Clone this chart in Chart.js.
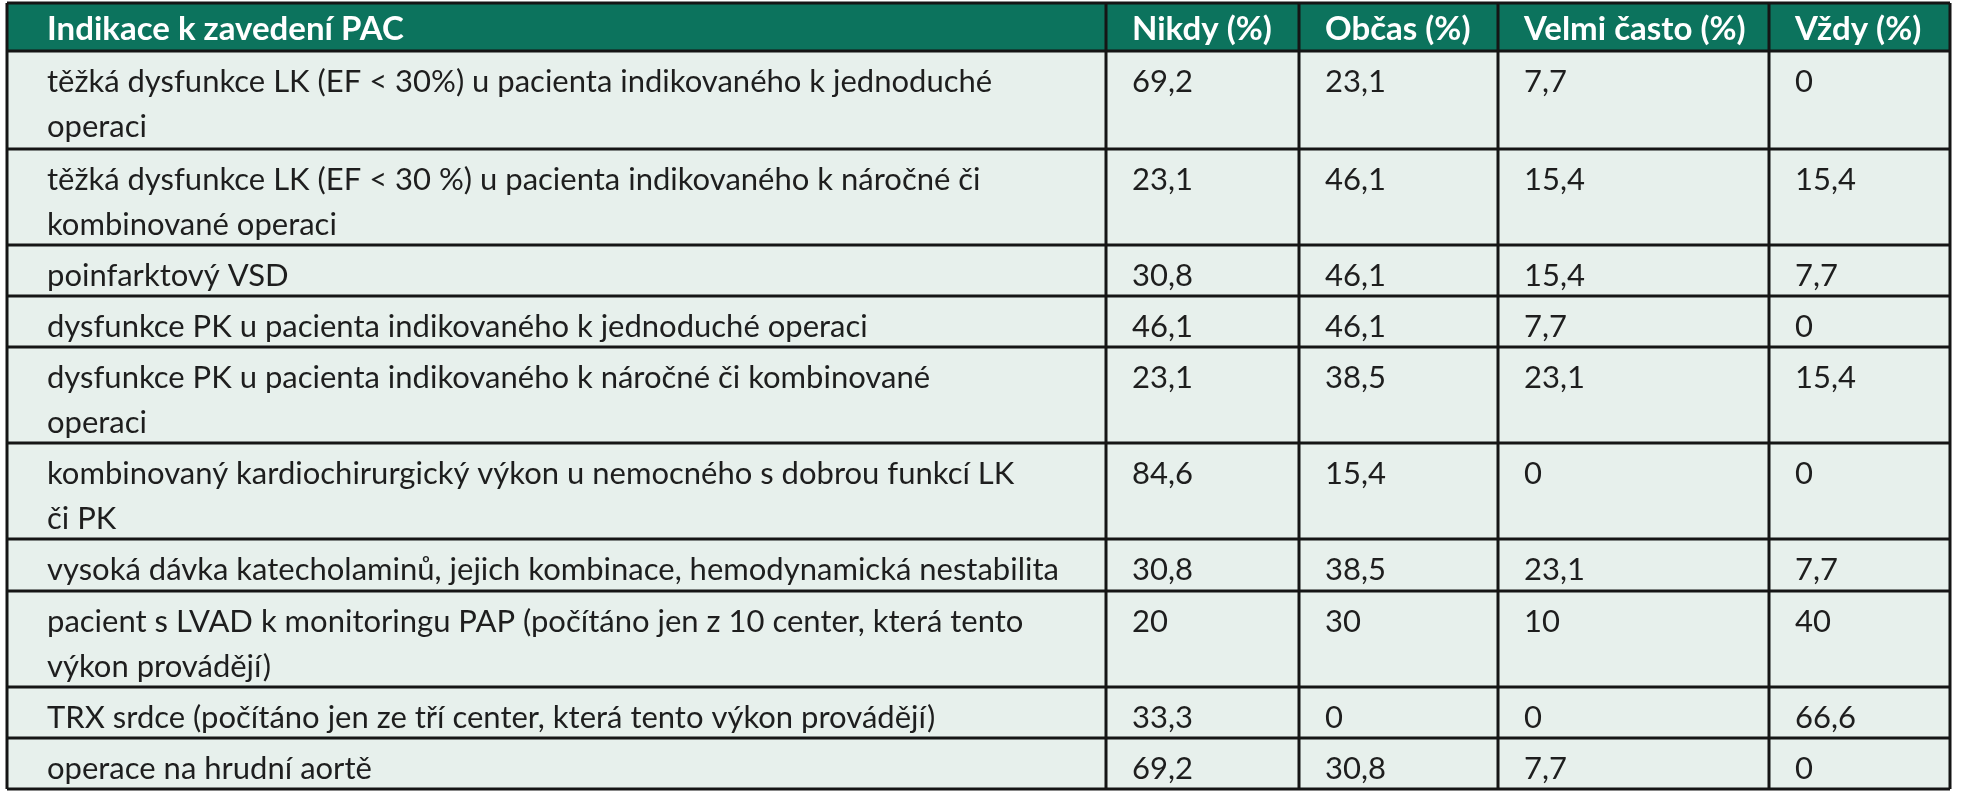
<!DOCTYPE html>
<html>
<head>
<meta charset="utf-8">
<script src="https://cdn.jsdelivr.net/npm/chart.js@4"></script>
<style>
  html, body { margin: 0; padding: 0; background: #fff; }
  #wrap { width: 1966px; height: 800px; }
</style>
</head>
<body>
<div id="wrap"><canvas id="tableChart"></canvas></div>
<script>
// data
const headers = ['Indikace k zavedení PAC', 'Nikdy (%)', 'Občas (%)', 'Velmi často (%)', 'Vždy (%)'];
const indications = [
    ['těžká dysfunkce LK (EF < 30%) u pacienta indikovaného k jednoduché', 'operaci'],
    ['těžká dysfunkce LK (EF < 30 %) u pacienta indikovaného k náročné či', 'kombinované operaci'],
    ['poinfarktový VSD'],
    ['dysfunkce PK u pacienta indikovaného k jednoduché operaci'],
    ['dysfunkce PK u pacienta indikovaného k náročné či kombinované', 'operaci'],
    ['kombinovaný kardiochirurgický výkon u nemocného s dobrou funkcí LK', 'či PK'],
    ['vysoká dávka katecholaminů, jejich kombinace, hemodynamická nestabilita'],
    ['pacient s LVAD k monitoringu PAP (počítáno jen z 10 center, která tento', 'výkon provádějí)'],
    ['TRX srdce (počítáno jen ze tří center, která tento výkon provádějí)'],
    ['operace na hrudní aortě']
];
const nikdy = [69.2, 23.1, 30.8, 46.1, 23.1, 84.6, 30.8, 20, 33.3, 69.2];
const obcas = [23.1, 46.1, 46.1, 46.1, 38.5, 15.4, 38.5, 30, 0, 30.8];
const velmiCasto = [7.7, 15.4, 15.4, 7.7, 23.1, 0, 23.1, 10, 0, 7.7];
const vzdy = [0, 15.4, 7.7, 0, 15.4, 0, 7.7, 40, 66.6, 0];

(function() {
    'use strict';

    // layout in scale units (1 unit = 1 px of the page)
    const colEdges = [7, 1106, 1299, 1498, 1769, 1950];
    const rowEdges = [3, 51, 149, 245, 296, 347, 443, 539, 591, 687, 738, 789];
    const columns = [nikdy, obcas, velmiCasto, vzdy];

    const fmt = v => String(v).replace('.', ',');

    const tablePlugin = {
        id: 'tableDraw',
        afterDraw(chart) {
            const ctx = chart.ctx;
            const xs = chart.scales.x, ys = chart.scales.y;
            const X = colEdges.map(v => xs.getPixelForValue(v));
            const Y = rowEdges.map(v => ys.getPixelForValue(v));
            ctx.save();

            // header background
            ctx.fillStyle = '#0c735d';
            ctx.fillRect(X[0], Y[0], X[5] - X[0], Y[1] - Y[0]);
            // body background
            ctx.fillStyle = '#e7f0ec';
            ctx.fillRect(X[0], Y[1], X[5] - X[0], Y[Y.length - 1] - Y[1]);

            // header text
            ctx.textBaseline = 'middle';
            ctx.fillStyle = '#ffffff';
            ctx.font = 'bold 33px Lato, sans-serif';
            headers.forEach((h, c) => {
                const pad = c === 0 ? 40 : 26;
                ctx.fillText(h, X[c] + pad, (Y[0] + Y[1]) / 2 + 2);
            });

            // body text
            ctx.fillStyle = '#1e1e1e';
            ctx.font = '31px Lato, sans-serif';
            indications.forEach((lines, r) => {
                const top = Y[r + 1];
                lines.forEach((ln, i) => {
                    ctx.fillText(ln, X[0] + 40, top + 31 + i * 45, X[1] - X[0] - 46);
                });
                columns.forEach((col, c) => {
                    ctx.fillText(fmt(col[r]), X[c + 1] + 26, top + 31);
                });
            });

            // grid lines
            ctx.strokeStyle = '#151515';
            ctx.lineWidth = 3;
            ctx.beginPath();
            Y.forEach(y => { ctx.moveTo(X[0], y); ctx.lineTo(X[5], y); });
            X.forEach(x => { ctx.moveTo(x, Y[0]); ctx.lineTo(x, Y[Y.length - 1]); });
            ctx.stroke();
            ctx.restore();
        }
    };

    const canvas = document.getElementById('tableChart');
    new Chart(canvas.getContext('2d'), {
        type: 'scatter',
        data: { datasets: [{ data: [], pointRadius: 0 }] },
        options: {
            responsive: true,
            maintainAspectRatio: false,
            animation: false,
            layout: { padding: 0 },
            plugins: { legend: { display: false }, tooltip: { enabled: false } },
            scales: {
                x: { type: 'linear', min: 0, max: 1966, display: false },
                y: { type: 'linear', min: 0, max: 800, reverse: true, display: false }
            }
        },
        plugins: [tablePlugin]
    });
})();
</script>
</body>
</html>
